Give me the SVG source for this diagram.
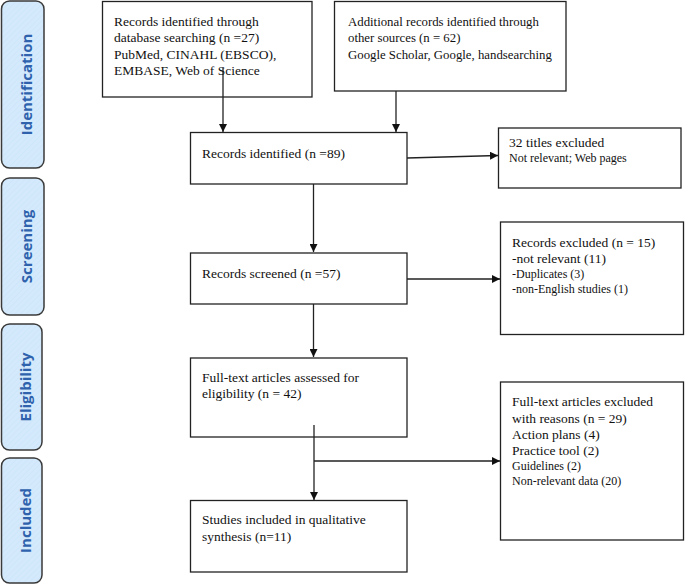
<svg xmlns="http://www.w3.org/2000/svg" width="685" height="584" viewBox="0 0 685 584">
<style>
.side{fill:url(#hatch);stroke:#3a3a3a;stroke-width:1.5}
.sl{font-family:"Open Sans","DejaVu Sans",sans-serif;font-weight:bold;font-size:15px;fill:#2f62ad;text-anchor:middle}
.box{fill:#fff;stroke:#222;stroke-width:1.3}
.t{font-family:"Liberation Serif","Times New Roman",serif;font-size:13.5px;fill:#111}
.t2{font-size:12.8px}
.s{font-size:12px}
.c{fill:none;stroke:#222;stroke-width:1.3}
</style>
<defs>
<pattern id="hatch" width="4" height="4" patternUnits="userSpaceOnUse" patternTransform="rotate(45)">
<rect width="4" height="4" fill="#d4eafc"/>
<line x1="0" y1="0" x2="0" y2="4" stroke="#c9e3f8" stroke-width="1"/>
</pattern>
<marker id="ah" viewBox="0 0 10 10" refX="10" refY="5" markerWidth="8" markerHeight="8" markerUnits="userSpaceOnUse" orient="auto">
<path d="M0,0 L10,5 L0,10 z" fill="#111"/>
</marker>
</defs>
<rect width="685" height="584" fill="#fff"/>
<g id="phase-identification"><rect class="side" x="1.5" y="1" width="42.5" height="167" rx="8"/><text class="sl" transform="translate(32,84.5) rotate(-90)">Identification</text></g>
<g id="phase-screening"><rect class="side" x="1.5" y="178" width="42.5" height="137" rx="8"/><text class="sl" transform="translate(32,246.5) rotate(-90)">Screening</text></g>
<g id="phase-eligibility"><rect class="side" x="1.5" y="324" width="40.5" height="126" rx="8"/><text class="sl" transform="translate(31,387) rotate(-90)">Eligibility</text></g>
<g id="phase-included"><rect class="side" x="1.5" y="458" width="40.5" height="125" rx="8"/><text class="sl" transform="translate(31,520.5) rotate(-90)">Included</text></g>

<g id="db-search"><rect class="box" x="102.5" y="1.5" width="209.5" height="95.5"/>
<text class="t"><tspan x="114" y="25.5">Records identified through</tspan><tspan x="114" y="42">database searching (n =27)</tspan><tspan x="114" y="58.5">PubMed, CINAHL (EBSCO),</tspan><tspan x="114" y="75">EMBASE, Web of Science</tspan></text></g>
<g id="other-sources"><rect class="box" x="334.5" y="1.5" width="231.5" height="89.5"/>
<text class="t t2"><tspan x="348" y="25.5">Additional records identified through</tspan><tspan x="348" y="42">other sources (n = 62)</tspan><tspan x="348" y="58.5">Google Scholar, Google, handsearching</tspan></text></g>
<g id="records-identified"><rect class="box" x="190.5" y="132.5" width="216.5" height="51.5"/>
<text class="t" x="202" y="158">Records identified (n =89)</text></g>
<g id="titles-excluded"><rect class="box" x="498.5" y="128" width="182.5" height="60"/>
<text class="t"><tspan x="509" y="147">32 titles excluded</tspan><tspan class="s" x="509" y="161.5">Not relevant; Web pages</tspan></text></g>
<g id="records-screened"><rect class="box" x="190.5" y="253" width="216.5" height="51"/>
<text class="t" x="202" y="277.5">Records screened (n =57)</text></g>
<g id="records-excluded"><rect class="box" x="500.5" y="222" width="183" height="112.5"/>
<text class="t"><tspan x="512" y="247">Records excluded (n = 15)</tspan><tspan x="512" y="263">-not relevant (11)</tspan><tspan class="s" x="512" y="278">-Duplicates (3)</tspan><tspan class="s" x="512" y="293">-non-English studies (1)</tspan></text></g>
<g id="full-text-assessed"><rect class="box" x="190.5" y="358" width="216.5" height="79"/>
<text class="t"><tspan x="202" y="382">Full-text articles assessed for</tspan><tspan x="202" y="397.5">eligibility (n = 42)</tspan></text></g>
<g id="full-text-excluded"><rect class="box" x="500.5" y="382" width="183" height="158"/>
<text class="t"><tspan x="512" y="406">Full-text articles excluded</tspan><tspan x="512" y="422.5">with reasons (n = 29)</tspan><tspan x="512" y="439">Action plans (4)</tspan><tspan x="512" y="455">Practice tool (2)</tspan><tspan class="s" x="512" y="470">Guidelines (2)</tspan><tspan class="s" x="512" y="485">Non-relevant data (20)</tspan></text></g>
<g id="studies-included"><rect class="box" x="190.5" y="500.5" width="216.5" height="71.5"/>
<text class="t"><tspan x="202" y="523.5">Studies included in qualitative</tspan><tspan x="202" y="541">synthesis (n=11)</tspan></text></g>

<g id="connectors">
<path class="c" d="M223,68 V132" marker-end="url(#ah)"/>
<path class="c" d="M396,91 V132" marker-end="url(#ah)"/>
<path class="c" d="M407,158 L498,155.5" marker-end="url(#ah)"/>
<path class="c" d="M313.5,184 V252" marker-end="url(#ah)"/>
<path class="c" d="M407,279 H500" marker-end="url(#ah)"/>
<path class="c" d="M313.5,304 V357" marker-end="url(#ah)"/>
<path class="c" d="M314,425 V500" marker-end="url(#ah)"/>
<path class="c" d="M314,461 H500" marker-end="url(#ah)"/>
</g>
</svg>
